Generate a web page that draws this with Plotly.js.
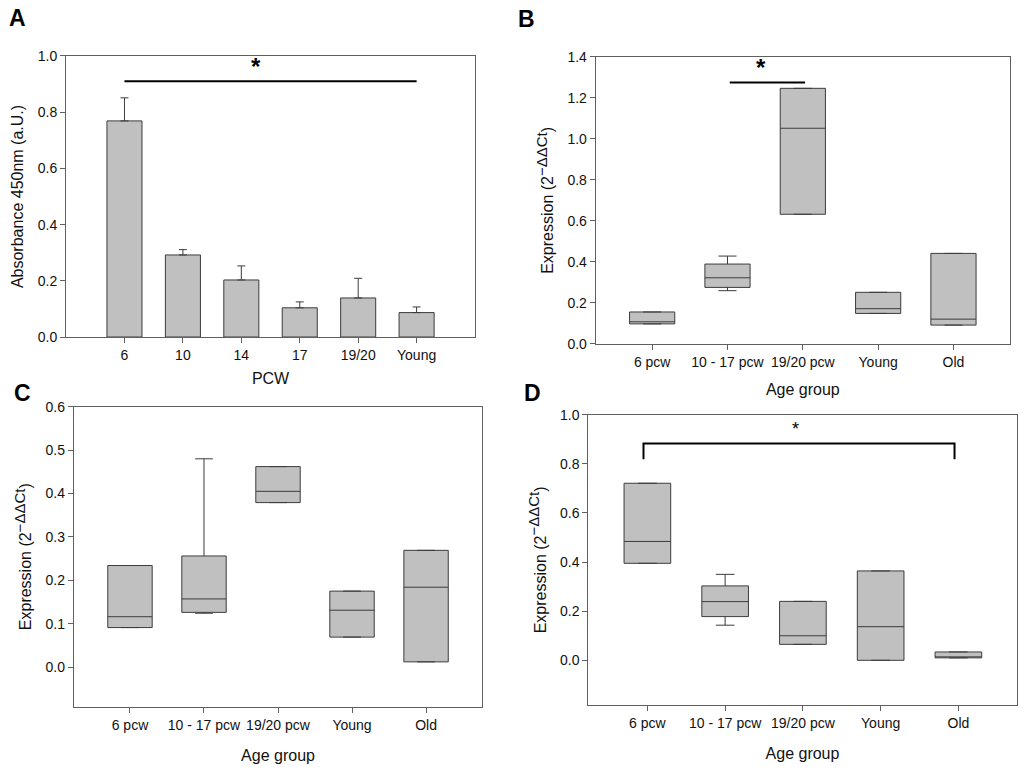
<!DOCTYPE html>
<html>
<head>
<meta charset="utf-8">
<script src="https://cdn.plot.ly/plotly-3.0.1.min.js"></script>
<style>
  html, body { margin: 0; padding: 0; background: #fff; }
  #chart { width: 1024px; height: 770px; }
</style>
</head>
<body>
<div id="chart"></div>
<script>
// Panel A - absorbance by PCW (bar + upper error bar)
var pcwLabels = ['6', '10', '14', '17', '19/20', 'Young'];
var absMean = [0.769, 0.292, 0.203, 0.104, 0.139, 0.087];
var absErr = [0.082, 0.019, 0.050, 0.021, 0.070, 0.020];

// Panels B-D - expression by age group (box summaries)
var ageGroups = ['6 pcw', '10 - 17 pcw', '19/20 pcw', 'Young', 'Old'];

var bQ1 = [0.097, 0.275, 0.632, 0.148, 0.091];
var bMed = [0.107, 0.322, 1.052, 0.171, 0.120];
var bQ3 = [0.155, 0.389, 1.247, 0.251, 0.441];
var bLo = [0.097, 0.259, 0.632, 0.148, 0.091];
var bHi = [0.155, 0.428, 1.247, 0.251, 0.441];

var cQ1 = [0.091, 0.126, 0.379, 0.069, 0.012];
var cMed = [0.116, 0.157, 0.405, 0.131, 0.184];
var cQ3 = [0.234, 0.256, 0.462, 0.175, 0.269];
var cLo = [0.091, 0.124, 0.379, 0.069, 0.012];
var cHi = [0.234, 0.480, 0.462, 0.175, 0.269];

var dQ1 = [0.395, 0.178, 0.065, 0.000, 0.010];
var dMed = [0.484, 0.239, 0.100, 0.137, 0.010];
var dQ3 = [0.721, 0.303, 0.240, 0.364, 0.034];
var dLo = [0.395, 0.143, 0.065, 0.000, 0.010];
var dHi = [0.721, 0.350, 0.240, 0.364, 0.034];

// significance markers: [from index, to index, level]
var sigA = [0, 5, 0.91];
var sigB = [1.03, 2.03, 1.275];
var sigD = [-0.05, 3.95, 0.883];

var FILL = '#c0c0c0';
var EDGE = '#3c3c3c';
var FRAME = '#606060';
var FONT = 'Liberation Sans, Arial, sans-serif';
var exprTitle = 'Expression (2<sup><span style="font-size:15px">\u2212\u0394\u0394Ct</span></sup>)';

function boxTrace(q1, med, q3, lo, hi, ax) {
    return {
        type: 'box',
        x: ageGroups,
        q1: q1, median: med, q3: q3,
        lowerfence: lo, upperfence: hi,
        width: 0.6,
        whiskerwidth: 0.4,
        fillcolor: FILL,
        line: { color: EDGE, width: 1 },
        boxpoints: false,
        hoverinfo: 'skip',
        showlegend: false,
        xaxis: 'x' + ax, yaxis: 'y' + ax
    };
}

var traces = [
    {
        type: 'bar',
        x: pcwLabels,
        y: absMean,
        width: 0.6,
        marker: { color: FILL, line: { color: EDGE, width: 1 } },
        error_y: {
            type: 'data', symmetric: false,
            array: absErr,
            arrayminus: absErr.map(function () { return 0; }),
            color: EDGE, thickness: 1, width: 4
        },
        hoverinfo: 'skip',
        showlegend: false,
        xaxis: 'x', yaxis: 'y'
    },
    boxTrace(bQ1, bMed, bQ3, bLo, bHi, '2'),
    boxTrace(cQ1, cMed, cQ3, cLo, cHi, '3'),
    boxTrace(dQ1, dMed, dQ3, dLo, dHi, '4')
];

function xAxis(domain, anchor, range, title, standoff) {
    return {
        domain: domain, anchor: anchor, type: 'category', range: range,
        showline: true, mirror: true, linecolor: FRAME, linewidth: 1,
        ticks: 'outside', ticklen: 5, tickcolor: FRAME,
        showgrid: false, zeroline: false,
        tickfont: { size: 14, color: '#111' },
        title: { text: title, font: { size: 16, color: '#111' }, standoff: standoff }
    };
}

function yAxis(domain, anchor, range, dtick, title, standoff) {
    return {
        domain: domain, anchor: anchor, range: range,
        tick0: 0, dtick: dtick, tickformat: '.1f',
        showline: true, mirror: true, linecolor: FRAME, linewidth: 1,
        ticks: 'outside', ticklen: 5, tickcolor: FRAME,
        showgrid: false, zeroline: false,
        tickfont: { size: 14, color: '#111' },
        title: { text: title, font: { size: 16, color: '#111' }, standoff: standoff }
    };
}

function panelLetter(txt, px, py) {
    return { text: '<b>' + txt + '</b>', xref: 'paper', yref: 'paper',
             x: px / 1024, y: 1 - py / 770, xanchor: 'center', yanchor: 'middle',
             showarrow: false, font: { size: 23, color: '#000' } };
}

var layout = {
    width: 1024, height: 770,
    margin: { l: 0, r: 0, t: 0, b: 0 },
    paper_bgcolor: '#fff', plot_bgcolor: '#fff',
    font: { family: FONT, color: '#111' },
    xaxis: xAxis([0.0645, 0.4639], 'y', [-1, 6], 'PCW', 10),
    yaxis: yAxis([0.5623, 0.9273], 'x', [0, 1.0], 0.2, 'Absorbance 450nm (a.U.)', 10),
    xaxis2: xAxis([0.5817, 0.9863], 'y2', [-0.75, 4.75], 'Age group', 15),
    yaxis2: yAxis([0.5536, 0.9260], 'x2', [0, 1.4], 0.2, exprTitle, 9),
    xaxis3: xAxis([0.0720, 0.4710], 'y3', [-0.76, 4.76], 'Age group', 18),
    yaxis3: yAxis([0.0822, 0.4718], 'x3', [-0.0914, 0.6], 0.1, exprTitle, 9),
    xaxis4: xAxis([0.5745, 0.9929], 'y4', [-0.76, 4.75], 'Age group', 17),
    yaxis4: yAxis([0.0844, 0.4614], 'x4', [-0.182, 1.0], 0.2, exprTitle, 9),
    shapes: [
        { type: 'line', xref: 'x', yref: 'y', x0: sigA[0], x1: sigA[1], y0: sigA[2], y1: sigA[2],
          line: { color: '#000', width: 2 } },
        { type: 'line', xref: 'x2', yref: 'y2', x0: sigB[0], x1: sigB[1], y0: sigB[2], y1: sigB[2],
          line: { color: '#000', width: 2 } },
        { type: 'path', xref: 'x4', yref: 'y4',
          path: 'M ' + sigD[0] + ' ' + (sigD[2] - 0.064) + ' L ' + sigD[0] + ' ' + sigD[2] +
                ' L ' + sigD[1] + ' ' + sigD[2] + ' L ' + sigD[1] + ' ' + (sigD[2] - 0.064),
          line: { color: '#000', width: 2 } }
    ],
    annotations: [
        panelLetter('A', 17, 18),
        panelLetter('B', 526, 19),
        panelLetter('C', 22, 393),
        panelLetter('D', 532, 393),
        { text: '<b>*</b>', xref: 'x', yref: 'y', x: 2.25, y: 0.962, showarrow: false,
          font: { size: 24, color: '#000' } },
        { text: '<b>*</b>', xref: 'x2', yref: 'y2', x: 1.44, y: 1.35, showarrow: false,
          font: { size: 24, color: '#000' } },
        { text: '*', xref: 'x4', yref: 'y4', x: 1.9, y: 0.94, showarrow: false,
          font: { size: 18, color: '#000' } }
    ]
};

Plotly.newPlot('chart', traces, layout, { staticPlot: true });
</script>
</body>
</html>
